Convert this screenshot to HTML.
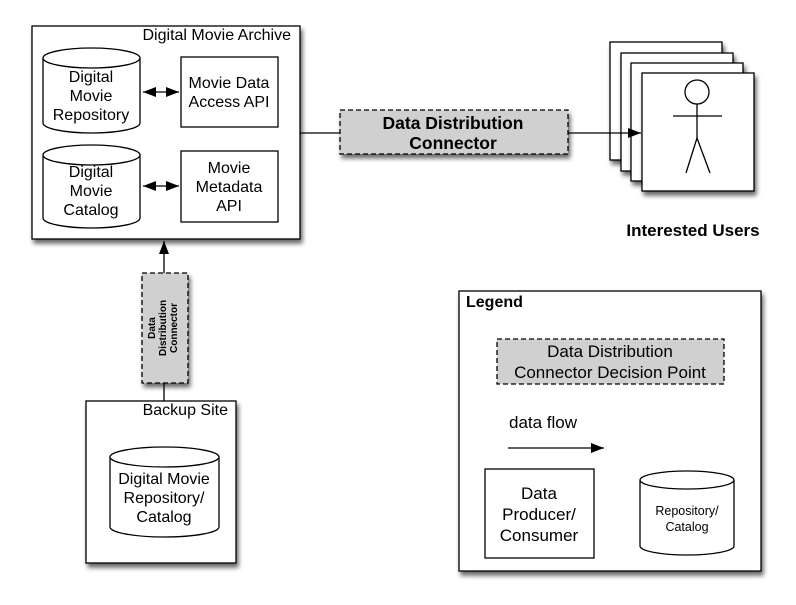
<!DOCTYPE html>
<html><head><meta charset="utf-8"><style>
body{margin:0;background:#fff}
text{font-family:"Liberation Sans",sans-serif;fill:#000}
</style></head><body>
<svg width="796" height="600" viewBox="0 0 796 600" xmlns="http://www.w3.org/2000/svg">
<defs>
<filter id="sh" x="-10%" y="-10%" width="130%" height="130%"><feGaussianBlur in="SourceAlpha" stdDeviation="2.5"/><feOffset dx="2" dy="4"/><feComponentTransfer><feFuncA type="linear" slope="0.6"/></feComponentTransfer><feMerge><feMergeNode/><feMergeNode in="SourceGraphic"/></feMerge></filter>
<marker id="ah" markerWidth="13" markerHeight="10" refX="13" refY="5" orient="auto" markerUnits="userSpaceOnUse"><path d="M0,0 L13,5 L0,10 z" fill="#000"/></marker>
<marker id="as" markerWidth="13" markerHeight="10" refX="0" refY="5" orient="auto" markerUnits="userSpaceOnUse"><path d="M13,0 L0,5 L13,10 z" fill="#000"/></marker>
</defs>
<g stroke="#000" stroke-width="1.3" fill="#fff">
<rect x="32" y="26" width="268" height="213" filter="url(#sh)"/>
<path d="M43,58 V123 A48.5,10 0 0 0 140,123 V58"/>
<ellipse cx="91.5" cy="58" rx="48.5" ry="10"/>
<path d="M43,155 V218 A48.5,10 0 0 0 140,218 V155"/>
<ellipse cx="91.5" cy="155" rx="48.5" ry="10"/>
<rect x="181" y="57" width="97" height="70"/>
<rect x="181" y="151" width="97" height="71"/>
<line x1="143" y1="92" x2="179" y2="92" marker-end="url(#ah)" marker-start="url(#as)"/>
<line x1="143" y1="186" x2="179" y2="186" marker-end="url(#ah)" marker-start="url(#as)"/>
<line x1="300" y1="133" x2="340" y2="133"/>
<rect x="610" y="42" width="112" height="118" filter="url(#sh)"/>
<rect x="621" y="53" width="112" height="118" filter="url(#sh)"/>
<rect x="631" y="63" width="112" height="118" filter="url(#sh)"/>
<rect x="642" y="73" width="112" height="118" filter="url(#sh)"/>
<line x1="568" y1="133" x2="641" y2="133" marker-end="url(#ah)"/>
<rect x="340" y="110" width="228" height="44" fill="#d0d0d0" stroke-dasharray="5,3" filter="url(#sh)"/>
<circle cx="697" cy="92" r="12"/>
<line x1="673" y1="116" x2="722" y2="116"/>
<line x1="697" y1="104" x2="697" y2="138"/>
<polyline points="686,173 697,138 710,173" fill="none"/>
<line x1="164" y1="273" x2="164" y2="241" marker-end="url(#ah)"/>
<line x1="164" y1="383" x2="164" y2="401"/>
<rect x="142" y="273" width="46" height="110" fill="#d0d0d0" stroke-dasharray="5,3" filter="url(#sh)"/>
<rect x="86" y="401" width="150" height="162" filter="url(#sh)"/>
<path d="M110,457 V527 A54.5,10 0 0 0 219,527 V457"/>
<ellipse cx="164.5" cy="457" rx="54.5" ry="10"/>
<rect x="459" y="291" width="302" height="280" filter="url(#sh)"/>
<rect x="497" y="339" width="227" height="45" fill="#d0d0d0" stroke-dasharray="5,3"/>
<line x1="508" y1="448" x2="604" y2="448" marker-end="url(#ah)"/>
<rect x="485" y="469" width="109" height="89"/>
<path d="M640,480 V546 A47,9 0 0 0 734,546 V480"/>
<ellipse cx="687" cy="480" rx="47" ry="9"/>
</g>
<g font-size="16">
<text x="291" y="40" text-anchor="end">Digital Movie Archive</text>
<text x="91" y="82" text-anchor="middle">Digital</text>
<text x="91" y="101" text-anchor="middle">Movie</text>
<text x="91" y="120" text-anchor="middle">Repository</text>
<text x="229" y="88" text-anchor="middle">Movie Data</text>
<text x="229" y="107" text-anchor="middle">Access API</text>
<text x="91" y="177" text-anchor="middle">Digital</text>
<text x="91" y="196" text-anchor="middle">Movie</text>
<text x="91" y="215" text-anchor="middle">Catalog</text>
<text x="229" y="173" text-anchor="middle">Movie</text>
<text x="229" y="192" text-anchor="middle">Metadata</text>
<text x="229" y="211" text-anchor="middle">API</text>
<text x="228" y="415" text-anchor="end">Backup Site</text>
<text x="164" y="484" text-anchor="middle">Digital Movie</text>
<text x="164" y="503" text-anchor="middle">Repository/</text>
<text x="164" y="522" text-anchor="middle">Catalog</text>
<text x="610" y="357" text-anchor="middle" font-size="17">Data Distribution</text>
<text x="610" y="378" text-anchor="middle" font-size="17">Connector Decision Point</text>
<text x="509" y="428" font-size="17">data flow</text>
<text x="539" y="499" text-anchor="middle" font-size="17">Data</text>
<text x="539" y="520" text-anchor="middle" font-size="17">Producer/</text>
<text x="539" y="541" text-anchor="middle" font-size="17">Consumer</text>
<text x="687" y="515" text-anchor="middle" font-size="12.5">Repository/</text>
<text x="687" y="531" text-anchor="middle" font-size="12.5">Catalog</text>
</g>
<g font-weight="bold">
<text x="453" y="129" text-anchor="middle" font-size="17.5">Data Distribution</text>
<text x="453" y="149" text-anchor="middle" font-size="17.5">Connector</text>
<text x="693" y="236" text-anchor="middle" font-size="17">Interested Users</text>
<text x="466" y="307" font-size="16">Legend</text>
<g font-size="10" transform="translate(164,328) rotate(-90)">
<text x="0" y="-9" text-anchor="middle">Data</text>
<text x="0" y="2" text-anchor="middle">Distribution</text>
<text x="0" y="13" text-anchor="middle">Connector</text>
</g>
</g>
</svg>
</body></html>
